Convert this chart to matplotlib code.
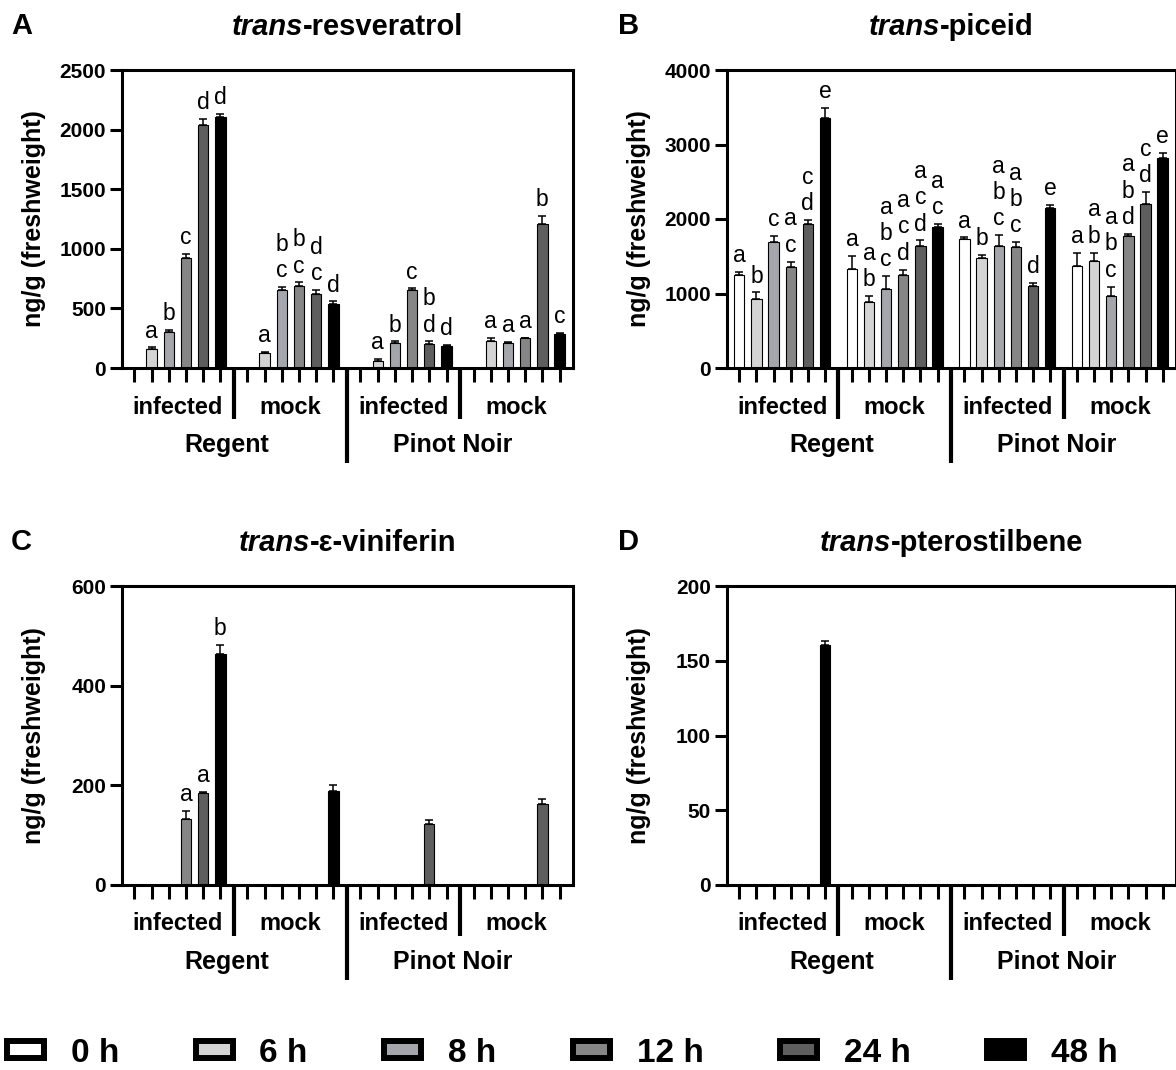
import numpy as np
import matplotlib
matplotlib.use('Agg')
import matplotlib.pyplot as plt
import matplotlib.transforms as mtransforms
from matplotlib.patches import Patch

plt.rcParams['font.family'] = ['Liberation Sans', 'DejaVu Sans']

# ---------------- data ----------------
timepoints = ['0 h', '6 h', '8 h', '12 h', '24 h', '48 h']
treatments = ['infected', 'mock', 'infected', 'mock']
cultivars = ['Regent', 'Pinot Noir']
colors = ['#ffffff', '#d4d4d4', '#a5a5ac', '#868686', '#5e5e5e', '#000000']

# order: Regent infected (0..48 h), Regent mock, Pinot Noir infected, Pinot Noir mock
resveratrol_mean = [0, 162, 302, 922, 2042, 2103,
                    0, 126, 654, 687, 620, 539,
                    0, 56, 212, 656, 198, 182,
                    0, 229, 210, 249, 1207, 288]
resveratrol_err = [0, 10, 15, 36, 45, 25,
                   0, 8, 25, 31, 36, 20,
                   0, 19, 11, 12, 25, 11,
                   0, 20, 8, 5, 70, 8]
resveratrol_letters = ['', 'a', 'b', 'c', 'd', 'd',
                       '', 'a', 'b\nc', 'b\nc', 'd\nc', 'd',
                       '', 'a', 'b', 'c', 'b\nd', 'd',
                       '', 'a', 'a', 'a', 'b', 'c']

piceid_mean = [1255, 920, 1688, 1352, 1933, 3352,
               1330, 890, 1054, 1254, 1638, 1897,
               1733, 1478, 1643, 1623, 1098, 2152,
               1366, 1442, 965, 1768, 2201, 2822]
piceid_err = [40, 95, 80, 77, 58, 134,
              172, 75, 180, 68, 74, 36,
              20, 45, 138, 64, 46, 35,
              180, 108, 128, 36, 157, 70]
piceid_letters = ['a', 'b', 'c', 'a\nc', 'c\nd', 'e',
                  'a', 'a\nb', 'a\nb\nc', 'a\nc\nd', 'a\nc\nd', 'a\nc',
                  'a', 'b', 'a\nb\nc', 'a\nb\nc', 'd', 'e',
                  'a', 'a\nb', 'a\nb\nc', 'a\nb\nd', 'c\nd', 'e']

viniferin_mean = [0, 0, 0, 132, 185, 464,
                  0, 0, 0, 0, 0, 189,
                  0, 0, 0, 0, 122, 0,
                  0, 0, 0, 0, 162, 0]
viniferin_err = [0, 0, 0, 16, 2, 17,
                 0, 0, 0, 0, 0, 12,
                 0, 0, 0, 0, 8, 0,
                 0, 0, 0, 0, 11, 0]
viniferin_letters = ['', '', '', 'a', 'a', 'b'] + [''] * 18

pterostilbene_mean = [0, 0, 0, 0, 0, 160.5] + [0] * 18
pterostilbene_err = [0, 0, 0, 0, 0, 2.7] + [0] * 18
pterostilbene_letters = [''] * 24

panels = [
    ('A', 'trans', '-resveratrol', resveratrol_mean, resveratrol_err, resveratrol_letters, [0, 500, 1000, 1500, 2000, 2500]),
    ('B', 'trans', '-piceid', piceid_mean, piceid_err, piceid_letters, [0, 1000, 2000, 3000, 4000]),
    ('C', 'trans', '-\u03b5-viniferin', viniferin_mean, viniferin_err, viniferin_letters, [0, 200, 400, 600]),
    ('D', 'trans', '-pterostilbene', pterostilbene_mean, pterostilbene_err, pterostilbene_letters, [0, 50, 100, 150, 200]),
]

# ---------------- layout ----------------
W, H = 1176, 1070
DPI = 100
fig = plt.figure(figsize=(W / DPI, H / DPI), dpi=DPI)

# axes boxes in pixels: left, top, right, bottom
boxes = [(122, 70, 573, 368), (727, 70, 1176, 368),
         (122, 586, 573, 885), (727, 586, 1176, 885)]

GROUP_STEP = 6.57
NB = len(timepoints)
positions = np.array([g * GROUP_STEP + i for g in range(len(treatments)) for i in range(NB)])
xlim = (-0.72, positions[-1] + 0.78)
bar_colors = [colors[i] for g in range(len(treatments)) for i in range(NB)]

SPINE = 2.2
renderer = fig.canvas.get_renderer()


def mixed_title(xc_px, y_px, part1, part2, size):
    t1 = fig.text(0, 1 - y_px / H, part1, style='italic', weight='bold', size=size, va='baseline')
    t2 = fig.text(0, 1 - y_px / H, part2, weight='bold', size=size, va='baseline')
    w1 = t1.get_window_extent(renderer).width
    w2 = t2.get_window_extent(renderer).width
    x0 = xc_px - (w1 + w2) / 2
    t1.set_x(x0 / W)
    t2.set_x((x0 + w1) / W)


for (letter, tpart, rest, mean, err, lets, yticks), (l, t, r, b) in zip(panels, boxes):
    ax = fig.add_axes([l / W, 1 - b / H, (r - l) / W, (b - t) / H])
    hpx = b - t
    mean = np.array(mean, dtype=float)
    err = np.array(err, dtype=float)

    ax.bar(positions, mean, width=0.6, color=bar_colors, edgecolor='black', linewidth=0.8, zorder=2)
    m = err > 0
    ax.errorbar(positions[m], mean[m], yerr=[np.zeros(m.sum()), err[m]], fmt='none',
                ecolor='black', elinewidth=1.1, capsize=2.6, capthick=1.1, zorder=3)
    for x, v, e, s in zip(positions, mean, err, lets):
        if s:
            ax.annotate(s, (x, v + e), xytext=(0, 3.5), textcoords='offset points',
                        ha='center', va='bottom', fontsize=16.5, linespacing=1.18)

    ax.set_xlim(*xlim)
    ax.set_ylim(yticks[0], yticks[-1])
    ax.set_yticks(yticks, labels=[str(v) for v in yticks], fontsize=15, fontweight='bold')
    ax.set_xticks(positions, labels=[''] * len(positions))
    ax.tick_params(axis='x', length=10, width=SPINE, direction='out')
    ax.tick_params(axis='y', length=8.5, width=SPINE, direction='out', pad=3)
    for sp in ax.spines.values():
        sp.set_linewidth(SPINE)

    trans = mtransforms.blended_transform_factory(ax.transData, ax.transAxes)
    # separators
    for g in range(1, len(treatments)):
        xs = g * GROUP_STEP - (GROUP_STEP - (NB - 1)) / 2
        depth = 95 if g == 2 else 51
        ax.plot([xs, xs], [0, -depth / hpx], transform=trans, clip_on=False,
                color='black', lw=3.0, solid_capstyle='butt')
    # treatment labels
    for g, lab in enumerate(treatments):
        xc = g * GROUP_STEP + (NB - 1) / 2
        ax.text(xc, -39 / hpx, lab, transform=trans, ha='center', va='center',
                fontsize=17, fontweight='bold')
    # cultivar labels
    for c, lab in enumerate(cultivars):
        xc = (2 * c * GROUP_STEP + (2 * c + 1) * GROUP_STEP + NB - 1) / 2 - 0.4
        ax.text(xc, -77 / hpx, lab, transform=trans, ha='center', va='center',
                fontsize=18, fontweight='bold')

    # y label
    fig.text((l - 88) / W, 1 - (t + b) / 2 / H, 'ng/g (freshweight)', rotation=90,
             ha='center', va='center', fontsize=18, fontweight='bold')
    # panel letter and title
    fig.text((11 if l < 500 else 618) / W, 1 - (t - 44) / H, letter, fontsize=21,
             fontweight='bold', ha='left', va='center')
    mixed_title((l + r) / 2, t - 35, tpart, rest, 21)

# legend
handles = [Patch(facecolor=c, edgecolor='black', linewidth=4.3) for c in colors]
fig.legend(handles, timepoints, loc='center left', bbox_to_anchor=(7 / W, 1 - 1053 / H),
           ncol=6, frameon=False, handlelength=1.11, handleheight=0.42, handletextpad=0.8,
           columnspacing=2.3, borderaxespad=0, borderpad=0,
           prop={'weight': 'bold', 'size': 24})

fig.savefig('out.png', dpi=DPI)
